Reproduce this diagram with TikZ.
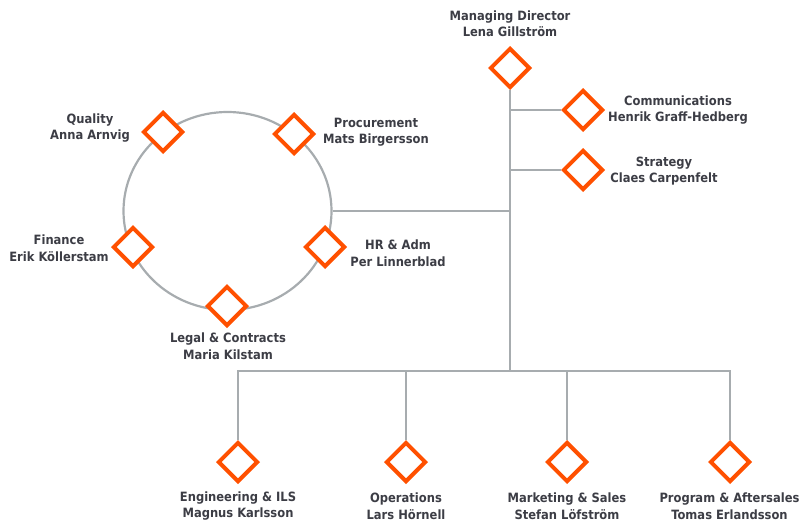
\documentclass[tikz,border=0pt]{standalone}
\usepackage{fontspec}
\setmainfont{DejaVu Sans Condensed}
\usetikzlibrary{shapes.geometric,backgrounds}
\definecolor{orgorange}{HTML}{FF5000}
\definecolor{orggrey}{HTML}{A7ACAF}
\definecolor{orgtext}{HTML}{3C3D45}
\tikzset{
  role/.style={shape=diamond, draw=orgorange, line width=4pt, fill=white,
    minimum width=40pt, minimum height=40pt, inner sep=0pt, miter limit=10},
  lbl/.style={align=center, text=orgtext, font=\bfseries\fontsize{12.8}{16.5}\selectfont, inner sep=0pt},
  conn/.style={draw=orggrey, line width=2.2pt}
}
\begin{document}
\begin{tikzpicture}[x=1pt,y=-1pt]
\useasboundingbox (0,0) rectangle (800,522);
% ring
\node[draw=orggrey, line width=2.2pt, shape=ellipse, minimum width=208pt, minimum height=198pt, inner sep=0pt] (ring) at (227.5,211) {};
% coordinates on trunk
\coordinate (tcom) at (510,110);
\coordinate (tstr) at (510,170);
\coordinate (tring) at (510,211);
\coordinate (bus) at (510,371);
% diamonds
\node[role] (md) at (510,68) {};
\node[role] (com) at (583,110) {};
\node[role] (str) at (583,170) {};
\node[role] (qual) at (163,132) {};
\node[role] (proc) at (294,134) {};
\node[role] (fin) at (133,247) {};
\node[role] (hr) at (325,247) {};
\node[role] (legal) at (227,306) {};
\node[role] (eng) at (238,462) {};
\node[role] (ops) at (406,462) {};
\node[role] (mkt) at (567,462) {};
\node[role] (prog) at (730,462) {};
% connectors (behind diamonds)
\begin{pgfonlayer}{background}
\draw[conn] (md.south) -- (bus);
\draw[conn] (tcom) -- (com.west);
\draw[conn] (tstr) -- (str.west);
\draw[conn] (ring.east) -- (tring);
\draw[conn] (eng.north) -- (eng.north |- bus) -- (prog.north |- bus) -- (prog.north);
\draw[conn] (ops.north) -- (ops.north |- bus);
\draw[conn] (mkt.north) -- (mkt.north |- bus);
\end{pgfonlayer}
% labels
\node[lbl] (lmd) at (510,23.5) {Managing Director\\Lena Gillström};
\node[lbl] (lcom) at (678,110) {Communications\\Henrik Graff-Hedberg};
\node[lbl] (lstr) at (664,171) {Strategy\\Claes Carpenfelt};
\node[lbl] (lqual) at (90,128) {Quality\\Anna Arnvig};
\node[lbl] (lproc) at (376,132) {Procurement\\Mats Birgersson};
\node[lbl] (lfin) at (59,248) {Finance\\Erik Köllerstam};
\node[lbl] (lhr) at (398,253) {HR \& Adm\\Per Linnerblad};
\node[lbl] (llegal) at (228,346) {Legal \& Contracts\\Maria Kilstam};
\node[lbl] (leng) at (238,506) {Engineering \& ILS\\Magnus Karlsson};
\node[lbl] (lops) at (406,506) {Operations\\Lars Hörnell};
\node[lbl] (lmkt) at (567,506) {Marketing \& Sales\\Stefan Löfström};
\node[lbl] (lprog) at (729.5,506) {Program \& Aftersales\\Tomas Erlandsson};
\end{tikzpicture}
\end{document}
